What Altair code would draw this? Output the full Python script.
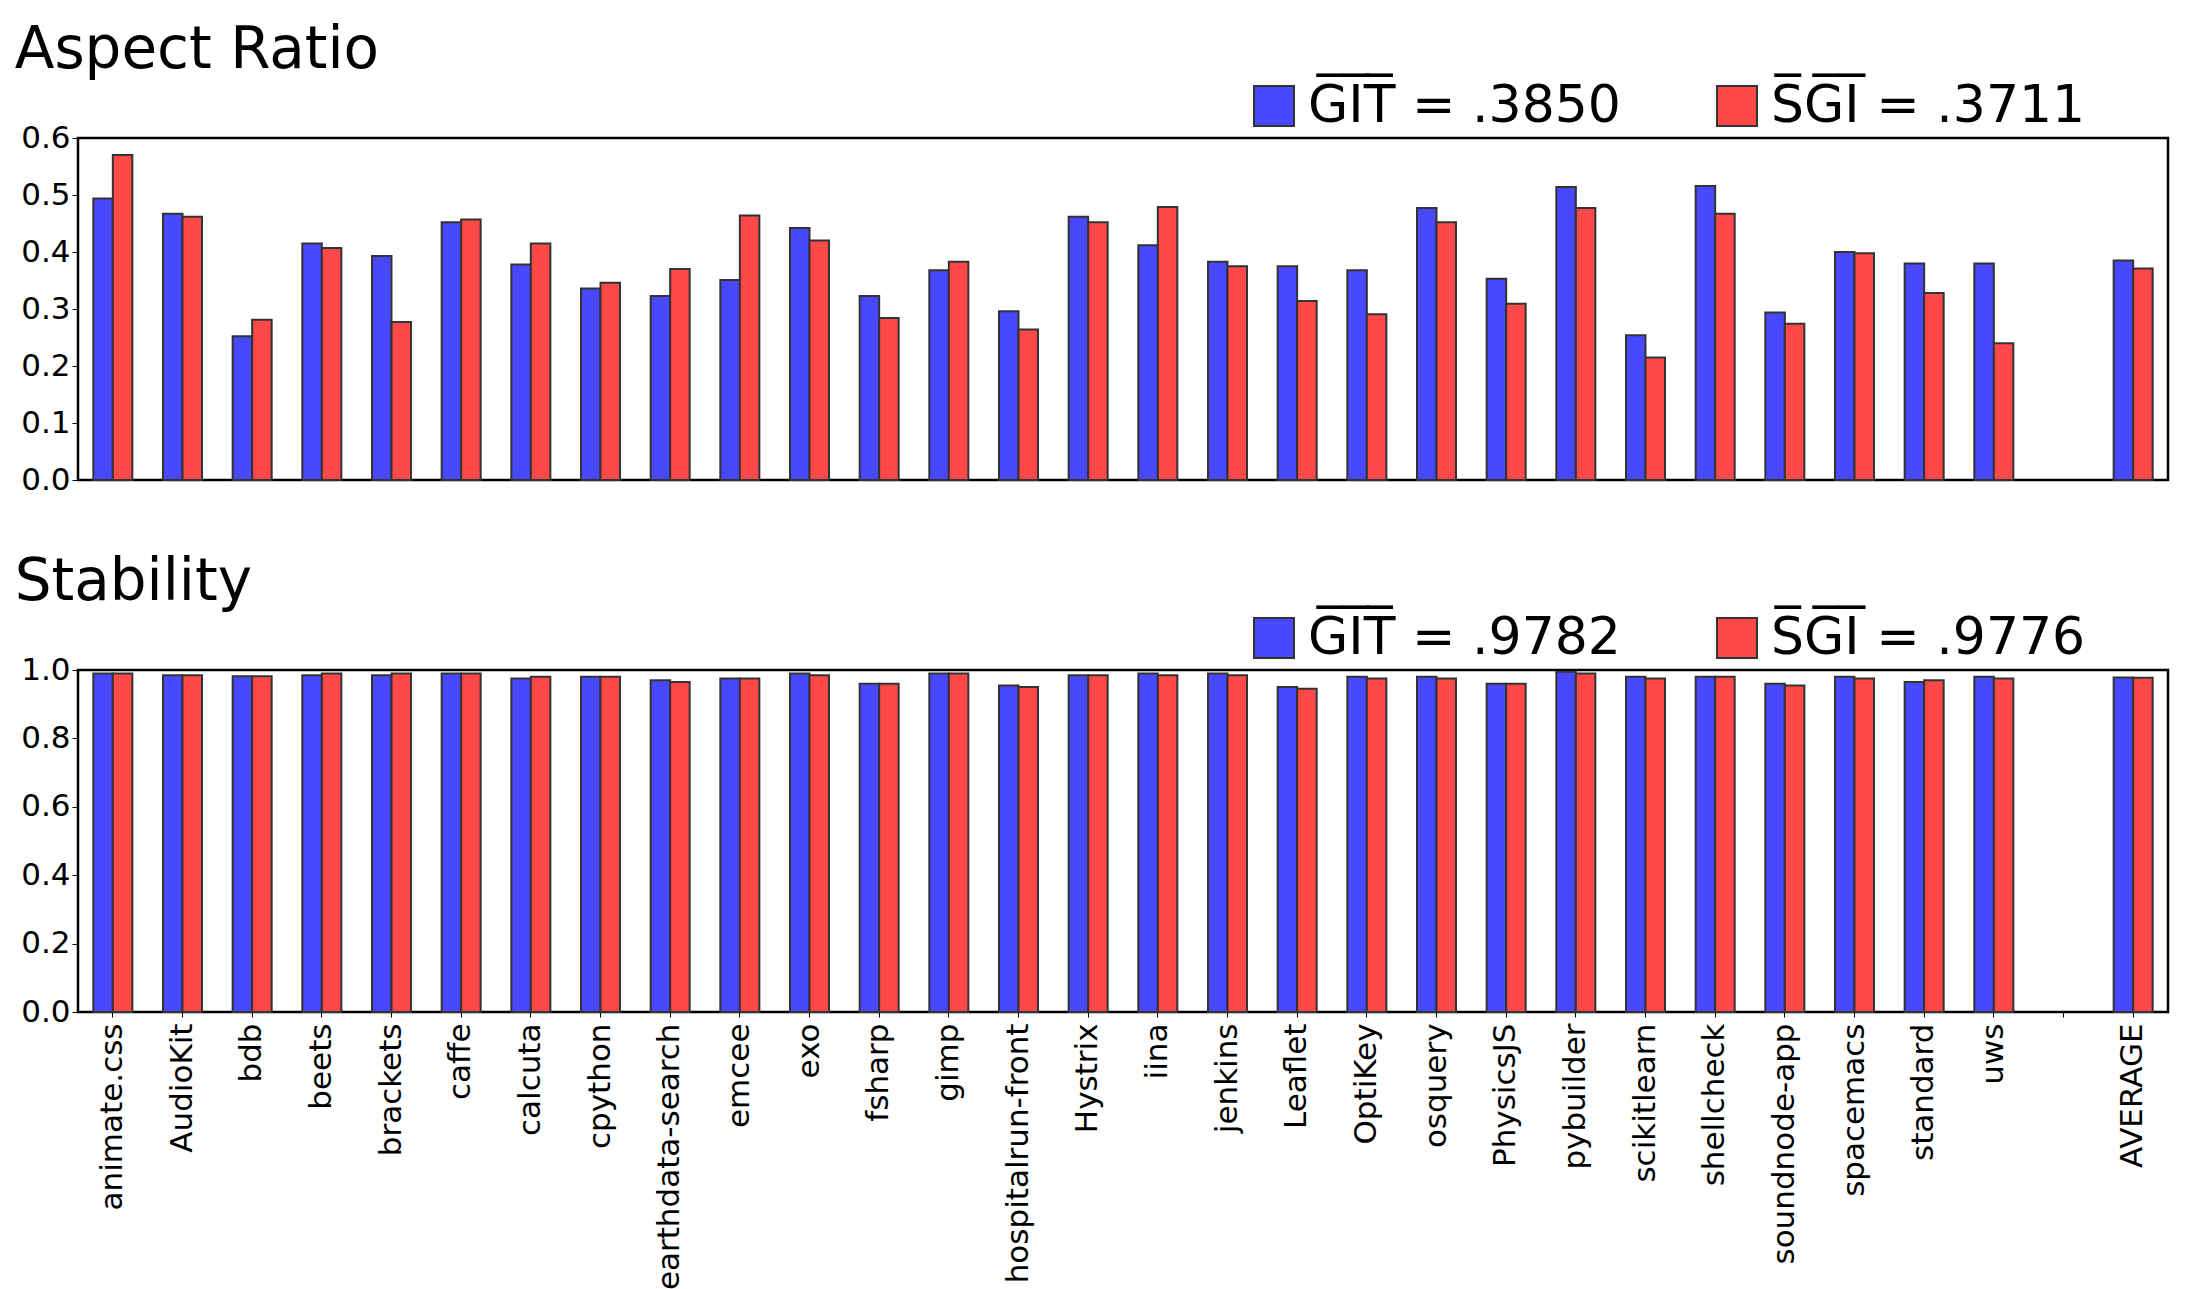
import altair as alt
import pandas as pd

cats = ["animate.css","AudioKit","bdb","beets","brackets","caffe","calcuta","cpython",
        "earthdata-search","emcee","exo","fsharp","gimp","hospitalrun-front","Hystrix","iina",
        "jenkins","Leaflet","OptiKey","osquery","PhysicsJS","pybuilder","scikitlearn","shellcheck",
        "soundnode-app","spacemacs","standard","uws","AVERAGE"]
ar_git = [0.494,0.467,0.252,0.415,0.393,0.452,0.378,0.336,0.323,0.351,0.442,0.323,0.368,0.296,
          0.462,0.412,0.383,0.375,0.368,0.477,0.353,0.514,0.254,0.516,0.294,0.400,0.380,0.380,0.3850]
ar_sgi = [0.570,0.462,0.281,0.407,0.277,0.457,0.415,0.346,0.370,0.464,0.420,0.284,0.383,0.264,
          0.452,0.479,0.375,0.314,0.291,0.452,0.309,0.477,0.215,0.467,0.274,0.398,0.328,0.240,0.3711]
st_git = [0.990,0.985,0.982,0.985,0.985,0.990,0.975,0.980,0.970,0.975,0.990,0.960,0.990,0.955,
          0.985,0.990,0.990,0.950,0.980,0.980,0.960,0.995,0.980,0.980,0.960,0.980,0.965,0.980,0.9782]
st_sgi = [0.990,0.985,0.982,0.990,0.990,0.990,0.980,0.980,0.965,0.975,0.985,0.960,0.990,0.950,
          0.985,0.985,0.985,0.945,0.975,0.975,0.960,0.990,0.975,0.980,0.955,0.975,0.970,0.975,0.9776]
series = ["GIT","SGI"]
ar_means = [".3850", ".3711"]
st_means = [".9782", ".9776"]

domain = cats[:-1] + [" "] + ["AVERAGE"]
OL = "\u0305"
def over(s):
    return "".join(ch + OL for ch in s)

def make(vals_g, vals_s, means, title, ymax, ystep, show_x):
    rows = []
    for c, g, s in zip(cats, vals_g, vals_s):
        rows.append({"cat": c, "series": "GIT", "value": g})
        rows.append({"cat": c, "series": "SGI", "value": s})
    df = pd.DataFrame(rows)
    lab = {"GIT": f"{over('GIT')} = {means[0]}", "SGI": f"{over('SGI')} = {means[1]}"}
    expr = f"datum.label == 'GIT' ? '{lab['GIT']}' : '{lab['SGI']}'"
    xaxis = alt.Axis(labelAngle=-90, labelFontSize=31, labelColor="black", ticks=True,
                     tickColor="black", domain=False, title=None, labelPadding=6,
                     labelLimit=400) if show_x else \
        alt.Axis(labels=False, ticks=False, domain=False, title=None)
    ticks = [round(i * ystep, 2) for i in range(int(round(ymax / ystep)) + 1)]
    return alt.Chart(df).mark_bar(stroke="#333333", strokeWidth=2).encode(
        x=alt.X("cat:N", scale=alt.Scale(domain=domain, paddingInner=0.44, paddingOuter=0.22),
                axis=xaxis, sort=domain),
        xOffset=alt.XOffset("series:N", scale=alt.Scale(domain=series)),
        y=alt.Y("value:Q", scale=alt.Scale(domain=[0, ymax], nice=False),
                axis=alt.Axis(values=ticks, format=".1f", labelFontSize=31, labelColor="black",
                              grid=False, title=None, tickColor="black", domain=False, tickSize=6)),
        color=alt.Color("series:N", scale=alt.Scale(domain=series, range=["#4848ff", "#ff4848"]),
                        legend=alt.Legend(orient="none", legendX=1170, legendY=-58,
                                          direction="horizontal", title=None, labelFontSize=52,
                                          labelExpr=expr, symbolType="square", symbolSize=1600,
                                          symbolStrokeColor="#333", symbolStrokeWidth=2,
                                          columnPadding=90, labelColor="black", labelLimit=600,
                                          labelOffset=8)),
    ).properties(width=2090, height=342,
                 title=alt.TitleParams(title, anchor="start", fontSize=58, fontWeight="normal",
                                       color="black", offset=0, dx=-6))

top = make(ar_git, ar_sgi, ar_means, "Aspect Ratio", 0.6, 0.1, False)
bot = make(st_git, st_sgi, st_means, "Stability", 1.0, 0.2, True)

chart = alt.vconcat(top, bot, spacing=55).resolve_scale(color="independent").resolve_legend(
    color="independent").configure_view(stroke="black", strokeWidth=2.5).configure_title(
    font="DejaVu Sans").configure_axis(labelFont="DejaVu Sans").configure_legend(
    labelFont="DejaVu Sans").properties(padding={"left": 5, "top": 12, "right": 5, "bottom": 5})

chart.save("out.html", embed_options={"renderer": "svg", "actions": False})
